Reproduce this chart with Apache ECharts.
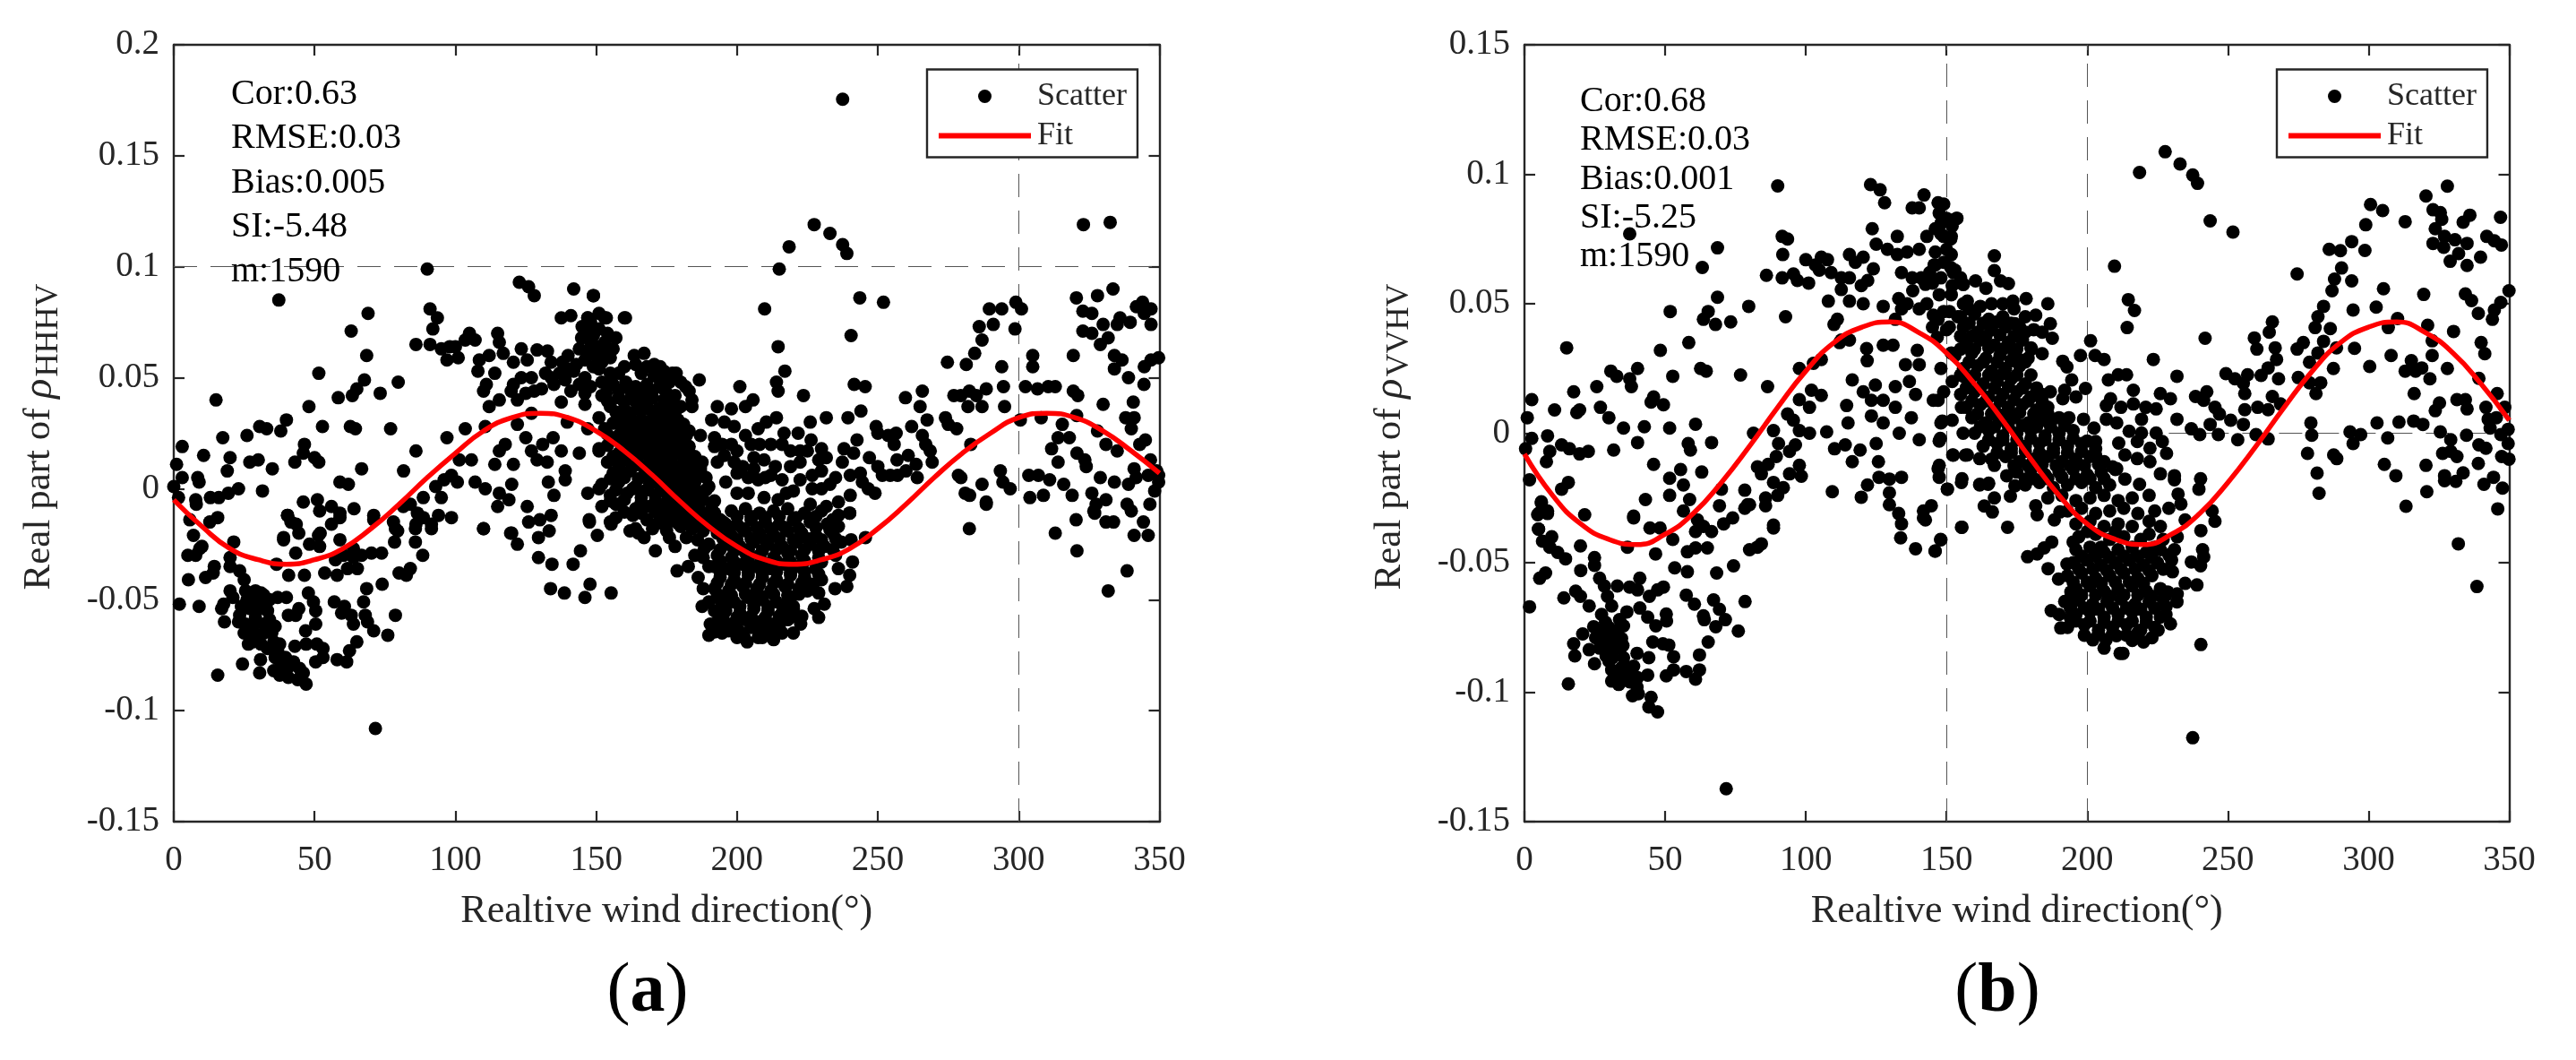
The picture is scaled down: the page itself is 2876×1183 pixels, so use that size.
<!DOCTYPE html>
<html><head><meta charset="utf-8">
<script src="https://cdn.jsdelivr.net/npm/echarts@6/dist/echarts.min.js"></script>
<style>html,body{margin:0;padding:0;background:#fff}#c{width:2876px;height:1183px}</style>
</head><body><div id="c"></div>
<script>
const fitX=[0,10,20,30,40,50,60,70,80,90,100,110,120,130,140,150,160,170,180,190,200,210,220,230,240,250,260,270,280,290,300,310,320,330,340,350];
const fitA=[-.005,-.017,-.027,-.032,-.034,-.032,-.027,-.018,-.007,.005,.016,.026,.032,.034,.032,.026,.017,.006,-.006,-.017,-.026,-.032,-.034,-.032,-.027,-.018,-.007,.005,.016,.025,.032,.034,.032,.026,.017,.007];
const fitB=[-.008,-.024,-.035,-.041,-.043,-.039,-.031,-.019,-.005,.010,.024,.035,.041,.043,.039,.031,.019,.005,-.010,-.024,-.035,-.041,-.043,-.039,-.031,-.019,-.005,.010,.024,.035,.041,.043,.039,.031,.019,.005];
const statsA=["Cor:0.63","RMSE:0.03","Bias:0.005","SI:-5.48","m:1590"];
const statsB=["Cor:0.68","RMSE:0.03","Bias:0.001","SI:-5.25","m:1590"];
const scatterA=[[37.3,.085],[90,.099],[122.7,.093],[126,.091],[128,.087],[142,.09],[149,.087],[69,.079],[63,.071],[68.5,.06],[91,.081],[93.6,.077],[92,.072],[86,.065],[91,.065],[95,.063],[98,.064],[97,.058],[101,.059],[100,.064],[103.5,.067],[105,.07],[107,.067],[115,.07],[115.6,.066],[108.5,.058],[112,.06],[117,.061],[120.6,.057],[123.4,.063],[125.5,.058],[129,.0625],[132.7,.062],[134,.057],[138,.057],[140,.06],[137.6,.077],[141,.078],[147,.077],[153,.077],[160,.077],
[1,.011],[3,.019],[10.6,.015],[0,.001],[3,.005],[1.7,-.004],[8.5,.005],[9,.003],[7.8,-.005],[13,-.004],[16,-.004],[19.4,-.002],[23,0],[15,.04],[17.4,.023],[20,.014],[19,.008],[26,.024],[30.5,.028],[33,.027],[38,.026],[40,.031],[27,.012],[30,.013],[35,.009],[31.5,-.001],[43,.012],[46.4,.02],[46,.016],[50,.014],[51.5,.012],[48,.037],[51.5,.052],[52.8,.028],[58.4,.041],[63.4,.042],[65,.045],[67.7,.049],[73.3,.043],[79.7,.048],[62.7,.028],[64.5,.027],[77,.027],[66.7,.009],[86,.017],[81.6,.008],[59,.003],[62,.002],[46,-.006],[51,-.005],[51.8,-.01],[56,-.008],[59,-.011],[64,-.009],[71,-.012],[40.4,-.012],[43.5,-.016],[52,-.02],[39,-.022],[81.5,-.008],[86.5,-.011],[84,-.007],[88.6,-.004],[93,.001],[96,.004],[98.6,.006],[101.4,.013],[100.7,.003],[95,-.004],[88.6,-.013],[94,-.012],[98.6,-.013],[91.5,-.016],[86,-.016],[78,-.015],[79.5,-.019],
[97,.023],[103.5,.027],[110.6,.028],[105.7,.013],[114,.011],[115.6,.017],[117.7,.02],[122,.029],[127,.034],[125,.023],[120.6,.011],[127,.017],[129,.013],[132.6,.012],[131,.02],[134.7,.023],[137.6,.017],[139.7,.03],[144,.016],[147,.027],[139,.008],[133,.003],[135,-.003],[139,.004],[120,.002],[107,.003],[110.6,0],[115.6,-.002],[115,-.008],[119,-.005],[125.5,-.008],[126,-.015],[130,-.014],[134,-.012],[110,-.018],[120,-.02],[147.5,-.014],[155,-.015],[147,-.002],[151,0],[151,.018],[157,.013],[157,-.007],
[108,.053],[114,.052],[111,.047],[110,.044],[112,.037],[115.6,.04],[120.6,.047],[123.4,.05],[127,.05],[119.8,.044],[130.6,.045],[134,.05],[139,.049],[142,.053],[137.6,.039],[146,.038],[146,.043],[151,.032],[153.5,.043],[146,.05],[151,.054],[144,.063],[148,.066],[152.6,.061],[146.8,.072],[151,.072],[144.8,.068],[149.7,.06],[155,.052],[158,.052],[158,.044],
[237.5,.1755],[227.4,.119],[233,.115],[237.5,.11],[239,.106],[218.5,.109],[215,.099],[209.8,.081],[243.6,.086],[252,.084],[240.5,.069],[214.6,.064],[217,.053],[214,.048],[214.6,.044],[223.6,.042],[241.6,.047],[245.5,.046],[201,.046],[205.7,.04],[203,.037],[193,.037],[198,.036],[186.6,.049],[178.4,.052],[181.7,.046],[184,.04],[184,.037],[163.5,.06],[167,.061],[170.6,.056],[172.7,.055],[174,.05],[160.4,.077],[153.6,.077],[149,.087],[147,.077],
[265.8,.044],[259.8,.041],[265,.037],[267.5,.031],[262,.028],[274.7,.057],[281.4,.056],[284.4,.061],[287,.067],[286,.073],[291,.074],[289.6,.081],[294,.081],[299,.084],[301,.081],[298.7,.072],[294,.055],[305,.06],[305,.055],[319.4,.06],[320.5,.086],[328,.087],[333.5,.09],[322.8,.08],[326,.079],[322.8,.071],[326,.07],[330,.074],[331.8,.068],[329,.065],[336,.077],[335,.074],[339.6,.075],[341.8,.082],[344,.084],[347,.081],[344.6,.079],[347,.074],[323,.119],[332.5,.12],
[334,.06],[336.7,.058],[334,.054],[344.6,.055],[347,.058],[349.7,.059],[339,.05],[344.5,.047],[340.7,.039],[330,.038],[319.4,.044],[321,.042],[320.6,.033],[315.5,.029],[318,.023],[314,.023],[328,.026],[331,.02],[335,.017],[338,.032],[341,.032],[340,.027],[345,.022],[343,.02],
[302.4,.046],[306.7,.045],[310.5,.046],[313,.046],[294.6,.046],[288.5,.045],[282.5,.044],[277,.042],[279.5,.042],[282,.037],[285,.042],[287,.037],[295,.037],[274,.032],[275,.029],[278,.027],[300.6,.031],[308,.032],
[283,.02],[311.7,.018],[320.7,.016],[323.5,.013],[324,.01],[314,.012],[278.6,.006],[279.5,.005],[287,.002],[293.5,.008],[294.4,.003],[297,0],[281,-.002],[282.6,-.003],[288.5,-.006],[303.6,.006],[307,.006],[311,.004],[316,.002],[319,-.003],[304,-.004],[308.8,-.003],[329,.005],[334,.003],[339,.002],[341.7,.005],[326,-.002],[331,-.005],[327.5,-.007],[326.7,-.01],[338.5,-.007],[340,-.01],[346.6,-.007],[349,.008],[349.7,.003],[348.3,-.001],[346,.006],[346.8,.013],[341,.009],[349.7,.006],
[282.5,-.018],[288.5,-.007],[313,-.02],[320.4,-.014],[320.7,-.028],[331.8,-.046],[338.5,-.037],[341,-.021],[346,-.021],[344.3,-.015],[331,-.015],[333.7,-.015],[327,-.011],
[182.7,-.035],[178.7,-.037],[186.2,-.04],[187.6,-.053],[190,-.051],[194.7,-.054],[190.5,-.061],[190,-.066],[194.7,-.065],[202.6,-.067],[203.6,-.069],[207.5,-.067],[213,-.068],[220,-.065],[222.6,-.061],[229,-.058],[231,-.052],[227.4,-.054],[229,-.047],[225,-.046],[234.8,-.045],[239,-.044],[240,-.039],[236,-.036],[241,-.033],[245.6,-.022],[240.5,-.023],[240,-.011],
[71.6,-.108],[15.6,-.084],[24.4,-.079],[30.5,-.083],[30.8,-.077],[47,-.088],[44,-.086],[40.7,-.085],[37.6,-.084],[35.5,-.082],[44.7,-.081],[42.5,-.078],[39.7,-.076],[36.9,-.073],[33.3,-.072],[35.5,-.069],[37.6,-.07],[36,-.076],[43,-.071],[47,-.07],[50.8,-.07],[53,-.072],[53,-.076],[50.4,-.078],[58,-.077],[61.4,-.078],[62.4,-.073],[65,-.069],[76,-.066],[46.8,-.064],[50.4,-.061],[50.4,-.055],[49.6,-.051],[47.8,-.047],[44.4,-.054],[43.3,-.057],[40.7,-.057],[40,-.049],[36.9,-.049],[57,-.051],[60.6,-.053],[59.6,-.056],[63,-.057],[63.8,-.061],[68,-.057],[68.8,-.06],[71,-.064],[67.4,-.051],[78.7,-.057],[68.5,-.045],[74,-.043],[80,-.038],[82.6,-.039],[84,-.036],
[29,-.046],[25.5,-.046],[32,-.048],[23.4,-.057],[27,-.054],[30.5,-.054],[33.3,-.055],[29,-.058],[25.5,-.061],[32,-.061],[36,-.062],[25,-.065],[27.7,-.066],[26.5,-.07],[32,-.065],[34.8,-.065],[29,-.05],[32.6,-.051],[24,-.053],
[20,-.046],[21,-.049],[17.7,-.052],[17,-.054],[18,-.06],[2,-.052],[9,-.053],[5.2,-.041],[11.3,-.04],[14.4,-.035],[14,-.038],[20,-.031],[20,-.035],[23.4,-.037],[25,-.041],[5,-.03],[7.8,-.03],[10,-.026],[7,-.021],[9.2,-.027],[5.7,-.014],[8,-.007],[12.8,-.015],[15.6,-.013],[21.3,-.024],
[36.5,-.034],[40.8,-.039],[46.4,-.039],[43.3,-.029],[39,-.023],[44.4,-.02],[48.2,-.025],[51.8,-.026],[51.4,-.021],[41.6,-.015],[40.4,-.012],[56,-.016],[59,-.013],[59,-.023],[53.6,-.038],[58,-.039],[57.4,-.032],[61.7,-.036],[65.2,-.036],[60.3,-.03],[63.8,-.027],[63.8,-.031],[66.7,-.03],[70.2,-.029],[73.8,-.029],[78.4,-.024],[78.7,-.018],[85.8,-.024],[88.4,-.03],[85.8,-.018],[91.5,-.018],[71,-.014],
[110,-.018],[119.6,-.02],[122,-.025],[129.5,-.031],[134.3,-.034],[141.8,-.034],[144.4,-.028],[133.8,-.045],[138.7,-.047],[147.8,-.043],[146,-.049],[155.3,-.047],[150.4,-.021],[155.3,-.016],[129.5,-.022],[133.3,-.019],[147.6,-.015],[162,-.019],[164,-.018],[167,-.022],[171,-.028],[188.4,-.027],
[166,.052],[170.5,.051],[174,.053],[156,.047],[160.5,.048],[164,.046],[168,.047],[172.5,.046],[176,.048],[152,.042],[158,.041],[162.5,.043],[166,.042],[170,.041],[175,.043],[178,.042],[155,.037],[160,.036],[164.5,.038],[168,.037],[172,.036],[176,.038],[180,.037],[158,.032],[162,.033],[166,.031],[170.5,.032],[174,.033],[179,.031],[153,.027],[159,.026],[163,.028],[167,.027],[171,.026],[175,.028],[179,.027],[183,.026],[156,.022],[161,.023],[165,.021],[169,.022],[173,.023],[177,.021],[181,.022],[151,.017],[158,.016],[163,.018],[167,.017],[171,.016],[175,.018],[179,.017],[183,.016],[154,.012],[160,.013],[165,.011],[169,.012],[173,.013],[177,.011],[181,.012],[185,.013],[156,.007],[162,.008],[167,.006],[171,.007],[175,.008],[179,.006],[183,.007],[187,.008],[152,.002],[158,.003],[164,.001],[169,.002],[173,.003],[177,.001],[181,.002],[185,.003],[190,.001],[155,-.003],[161,-.002],[166,-.004],[171,-.003],[175,-.002],[179,-.004],[183,-.003],[187,-.002],[152,-.008],[158,-.007],[164,-.009],[169,-.008],[174,-.007],[178,-.009],[182,-.008],[186,-.007],[191,-.009],[157,-.013],[163,-.012],[168,-.014],[173,-.013],[177,-.012],[181,-.014],[185,-.013],[189,-.012],[194,-.014],[170,-.018],[175,-.019],[180,-.017],[184,-.018],[188,-.019],[192,-.017],
[191,.031],[195.5,.03],[199,.028],[187,.024],[192,.023],[192,.019],[194.7,.02],[195.5,.015],[182.7,.013],[187.6,.012],[193,.012],[199,.012],[202,.01],[206,.014],[209.6,.013],[207.5,.027],[210.4,.03],[214,.032],[208,.02],[212,.02],[216.7,.025],[221.7,.025],[226,.03],[231.7,.032],[226.3,.022],[230,.018],[231.7,.014],[216,.02],[219,.017],[222.4,.017],[225,.017],[229,.013],[230,.008],[213.6,.01],[219,.01],[222.4,.012],[206,.009],[207.5,.004],[222.4,.004],[226.7,.006],[230,0],[196,.003],[200,-.002],[204,-.002],[209.6,-.004],[214.6,-.005],[217.5,-.002],[226.7,0],[226,-.007],[231.7,-.008],[240,-.011],[240.2,-.003],[237.4,.012],[239.4,.032],[244,.035],[238,.018],[241.4,.016],[242.6,.022],[247,.014],[249.4,.028],[250,.025],[253.7,.024],[256.5,.025],[255.8,.02],[256.8,.013],[260.8,.015],[263.6,.011],[264,.005],[265.8,.024],[267,.02],[269.3,.012],[268.6,.017],[240.2,.006],[243.8,.007],[244.5,.003],[246.6,0],[249,-.002],[250,.01],[251.6,.006],[254.4,.006],[257,.006],[260,.008],
[198,-.01],[203,-.009],[208,-.011],[213,-.01],[218,-.009],[224,-.011],[230,-.01],[236,-.012],[195,-.015],[200,-.016],[205,-.014],[210,-.015],[215,-.016],[220,-.014],[226,-.015],[232,-.016],[236,-.017],[193,-.02],[198,-.021],[203,-.019],[208,-.02],[213,-.021],[218,-.019],[223,-.02],[228,-.021],[234,-.02],[196,-.025],[201,-.026],[206,-.024],[211,-.025],[216,-.026],[221,-.024],[226,-.025],[231,-.026],[237,-.024],[193,-.03],[198,-.031],[203,-.029],[208,-.03],[213,-.031],[218,-.029],[223,-.03],[229,-.031],[235,-.03],[192,-.035],[197,-.036],[202,-.034],[207,-.035],[212,-.036],[217,-.034],[222,-.035],[228,-.036],[194,-.04],[199,-.041],[204,-.039],[209,-.04],[214,-.041],[219,-.039],[224,-.04],[230,-.041],[192,-.045],[197,-.046],[202,-.044],[207,-.045],[212,-.046],[217,-.044],[222,-.045],[194,-.05],[199,-.051],[204,-.049],[209,-.05],[214,-.051],[219,-.049],[196,-.055],[201,-.056],[206,-.054],[211,-.055],[216,-.056],[220,-.054],[193,-.06],[198,-.061],[203,-.059],[208,-.06],[213,-.061],[218,-.059],[197,-.064],[202,-.065],[207,-.063],[212,-.064],[216,-.065]];
const coreA=[[158,.0445],[162,.045],[166,.0445],[170,.044],[174,.045],[154,.0395],[160,.039],[164,.04],[168,.0395],[174,.04],[177,.039],[157,.0345],[162,.034],[166,.035],[170,.0345],[174,.035],[178,.034],[156,.0295],[160,.03],[164,.0295],[168,.03],[172,.029],[177,.0295],[181,.029],[154,.0245],[158,.024],[163,.025],[167,.0245],[171,.024],[175,.025],[179,.0245],[182,.024],[154,.0195],[159,.0195],[163,.02],[167,.019],[171,.0195],[175,.02],[179,.0195],[183,.019],[156,.0145],[161,.015],[165,.0145],[169,.015],[173,.014],[177,.0145],[181,.015],[185,.0145],[158,.0095],[163,.01],[167,.0095],[171,.01],[175,.009],[179,.0095],[183,.01],[187,.0095],[155,.0045],[160,.005],[165,.0045],[169,.005],[173,.004],[177,.0045],[181,.005],[185,.0045],[189,.005],[157,-.0005],[163,0],[168,-.0005],[173,0],[177,-.001],[181,-.0005],[185,0],[189,-.0005],[155,-.0055],[160,-.005],[166,-.006],[171,-.0055],[176,-.005],[180,-.0055],[184,-.006],[188,-.005],[192,-.0055],[160,-.0105],[166,-.011],[171,-.0105],[175,-.01],[179,-.011],[183,-.0105],[187,-.01],[192,-.011],[172,-.0155],[175,-.016],[179,-.0155],[183,-.015],[187,-.016],[191,-.0155],[196,-.016],
[200,-.0125],[205,-.0125],[210,-.013],[215,-.0125],[221,-.013],[228,-.0125],[197,-.0175],[202,-.018],[207,-.0175],[212,-.018],[217,-.0175],[222,-.018],[228,-.0175],[233,-.0185],[195,-.0225],[200,-.023],[205,-.0225],[210,-.023],[215,-.0225],[220,-.023],[225,-.0225],[230,-.023],[235,-.0225],[194,-.0275],[199,-.028],[204,-.0275],[209,-.028],[214,-.0275],[219,-.028],[224,-.0275],[229,-.028],[234,-.0275],[194,-.0325],[199,-.033],[204,-.0325],[209,-.033],[214,-.0325],[219,-.033],[224,-.0325],[230,-.033],[194,-.0375],[199,-.038],[204,-.0375],[209,-.038],[214,-.0375],[219,-.038],[224,-.0375],[229,-.0385],[193,-.0425],[198,-.043],[203,-.0425],[208,-.043],[213,-.0425],[218,-.043],[223,-.0425],[227,-.043],[193,-.0475],[198,-.048],[203,-.0475],[208,-.048],[213,-.0475],[218,-.048],[222,-.0475],[196,-.0525],[201,-.053],[206,-.0525],[211,-.053],[216,-.0525],[220,-.053],[195,-.0575],[200,-.058],[205,-.0575],[210,-.058],[215,-.0575],[219,-.058],[223,-.0575],[195,-.0625],[200,-.063],[205,-.0625],[210,-.063],[215,-.0625],[192,-.0645],[200,-.067],[209,-.067]];
const extraA=[[146,.058],[149,.055],[152,.057],[155,.059],[147,.062],[150,.064],[153,.066],[156,.063],[145,.073],[148,.075],[151,.079],[149,.069],[154,.07],[157,.068],[143,.056],[140,.054],[137,.052],[135,.047],[132,.052],[128,.044],[125,.043],[122,.04],[141,.044],[144,.047],[148,.046],[152,.048],[155,.048],[160,.055],[164,.056],[168,.055],[172,.05],[177,.052],[180,.048],[183,.044],[26,-.05],[28,-.053],[31,-.047],[34,-.05],[23,-.06],[28,-.062],[30,-.066],[34,-.059],[28,-.069],[31,-.07],[38,-.08],[41,-.08],[46,-.083],[39,-.08],[165,-.02],[176,-.022],[182,-.022],[186,-.023],[190,-.025],[188,-.031],[185,-.03],[178,-.026],[190,-.035],[188,-.045],[192,-.055],[205,.02],[200,.007],[204,.005],[212,.006],[216,.004],[220,-.001],[233,.002],[235,.005],[236,-.006],[234,-.014],[210,.005],[200,.017],[203,.024],[198,.02]];
const scatterB=[[90,.0955],[123,.096],[126.4,.094],[128,.089],[142,.092],[140.3,.087],[137.8,.087],[149,.0885],[153.6,.083],[147.4,.085],[37.4,.077],[68.6,.0716],[63.2,.064],[91.6,.076],[93.5,.075],[91.8,.069],[86,.061],[91.6,.06],[95.6,.0615],[97,.059],[101,.058],[100,.067],[103.4,.065],[105.5,.068],[107.7,.067],[104.8,.063],[109,.062],[112.6,.06],[115.5,.069],[120.4,.068],[117.6,.066],[115.5,.06],[124,.0635],[122,.059],[119.7,.057],[123.6,.079],[125,.073],[132.5,.076],[129,.071],[132.5,.069],[136,.07],[140.3,.071],[134,.062],[137.8,.06],[143,.076],[148,.077],[151.7,.076],[150,.071],[146,.065],[152.4,.062],[151.7,.069],
[108,.051],[112.6,.0555],[115.5,.051],[120.4,.05],[111.2,.044],[110,.042],[112.6,.036],[115.5,.036],[127.5,.049],[133,.052],[134,.048],[131.8,.044],[140.3,.048],[142.5,.0575],[147.4,.0535],[151.7,.0535],[145.3,.0456],[149,.047],[156,.0575],[156,.05],
[15,.033],[51.8,.047],[68.6,.0525],[65.3,.047],[63.6,.044],[67.9,.042],[73.3,.043],[79.7,.049],[92.8,.045],[58.4,.035],[48.3,.032],[52.7,.022],[62.6,.025],[64.6,.024],[76.8,.0225],[86.4,.018],[40.2,.025],[30.7,.024],[32.8,.022],[37.4,.021],[38,.018],[25.7,.018],[17.5,.016],[27,.01],[19.6,.009],[18.6,.008],[10.7,.009],[2.6,.013],[1,.006],[2.6,-.002],[8.2,-.001],[30,.006],[35.2,.002],[42.6,.0025],[51.6,.002],[60.8,.0035],[45.9,.014],[45,.012],[49.4,.011],[40.2,-.0036],[31.7,-.0065],[58.2,-.004],[59,-.0065],[66.5,-.0036],[13.2,-.0045],[16,-.006],[19.6,-.008],[22.7,-.007],[9,-.007],[7.8,-.011],[.4,-.006],[1.8,-.018],[15.6,-.019],[13.2,-.0216],[45.9,-.012],[55.5,-.014],[63,-.015],[51.6,-.0174],[56.5,-.02],[51.6,-.024],[43,-.0256],[58.7,-.0256],[56.5,-.03],[38.8,-.032],[6,-.027],[8.2,-.03],[5,-.031],[21.4,-.0315],[5,-.037],[70,-.0216],[78.3,-.022],[69.3,-.028],[80,-.0276],[85.7,-.025],[90,-.024],[92,-.021],[85.7,-.028],[88.5,-.019],[82.8,-.013],[84.2,-.0157],[86.6,-.012],[89.5,-.009],[94.2,-.0157],[97.7,-.0124],[98.4,-.0166],[88.5,-.0355],[81.4,0],[88.5,.001],[90.3,-.004],[94.2,-.007],[96.3,-.0045],[93.5,.0074],[95.6,.005],[97.7,.001],[101.3,0],[97.7,.013],[101.3,.01],[102,.0166],[105.5,.0146],[97.7,.025],[102.7,.027],[105.5,.0285],[112,.035],
[107.4,.0005],[114.5,.0107],[115,.004],[116.5,.0206],[121.6,.0327],[121.8,.028],[127.5,.034],[131,.034],[124.7,.0186],[120.4,.016],[123.3,.0127],[127.5,.0127],[123.3,.0067],[127.5,.004],[131.8,.01],[133.2,0],[136.8,.02],[135.4,.0265],[140.3,.0265],[131.8,.018],[139,.015],[137.5,.006],[140.3,-.0025],[148,.025],[145.3,.0127],[149,.016],[148,.004],[139.6,.032],[146.7,.037],[151.7,.031],[156,.022],[155.3,.01],[147.4,-.003],[152.4,-.0085],[156.7,-.0085],
[110.2,-.006],[114,-.0045],[116.5,-.011],[119.3,-.0065],[125,-.004],[125.8,-.011],[126,-.017],[121.9,-.02],[119.7,-.0247],[109.4,-.0226],[129.7,-.0177],[134,-.017],[129.7,-.023],[129.7,-.0276],[133,-.031],[134,-.035],[141.8,-.03],[144.6,-.028],[142.5,-.0335],[147.4,-.0124],[147.4,-.017],[150.3,-.0216],[155.3,-.019],
[1.8,-.067],[5.4,-.056],[7.5,-.054],[6,-.0265],[4.7,-.0315],[8.2,-.031],[5,-.037],[6.4,-.0417],[9.7,-.04],[9,-.044],[11.8,-.046],[14.6,-.0485],[19.9,-.0435],[24.9,-.048],[24.9,-.051],[20,-.053],[14,-.0636],[18.2,-.061],[19.9,-.063],[23,-.0667],[26.7,-.056],[28.4,-.059],[33,-.059],[37.4,-.0594],[41,-.056],[40.2,-.0605],[44.4,-.063],[47.3,-.0605],[49.4,-.0594],[29.5,-.063],[31,-.0667],[36.4,-.069],[41,-.0675],[43.8,-.071],[46.7,-.0744],[50.4,-.0698],[50.5,-.0725],[27.4,-.07],[28.8,-.073],[33.8,-.072],[35.2,-.0744],[24.6,-.0747],[20.7,-.0775],[25.3,-.079],[28.1,-.0775],[31,-.079],[34.5,-.0793],[17.5,-.0813],[17.9,-.086],[23,-.0836],[26.7,-.083],[24.9,-.089],[31.3,-.0867],[35.2,-.0867],[40,-.085],[44.2,-.0867],[45.6,-.0806],[49.2,-.0813],[51.3,-.0818],[53,-.0863],[31,-.0914],[34.5,-.0906],[38.8,-.09],[43.8,-.0934],[31,-.0957],[33.5,-.097],[37.4,-.096],[40.2,-.0944],[38.4,-.1014],[40.5,-.1006],[45,-.102],[44.2,-.1057],[47.3,-.1076],[15.6,-.0968],[50.4,-.0937],[53,-.0914],[57.5,-.092],[60.8,-.095],[62.2,-.0914],[62.2,-.0856],[65.3,-.0806],[57.5,-.0625],[60.4,-.066],[63.6,-.0705],[63.9,-.072],[67.2,-.0644],[69.3,-.068],[71.4,-.072],[68,-.0747],[76,-.0764],[78.4,-.065],[71.7,-.1373],[68.3,-.054],[74.3,-.0512],[57.9,-.0535],[53.4,-.052],[46.6,-.0466],[36.6,-.044],[57.9,-.0458],[60.8,-.0443],[65,-.0443],[80,-.045],[84.2,-.0427],[82.8,-.044],[88.5,-.0366],[52.7,-.041],[44.6,-.0366],[48.2,-.0366],[38.8,-.0327],[60.8,-.038],[63.6,-.036],[66.5,-.038],[70.8,-.035],[74,-.0327],[61.5,-.0335],[79.3,-.0276],[78.3,-.029],[133.7,-.0404],[139,-.0446],[146,-.0455],[147.9,-.041],[155.3,-.0363],[141.8,-.0327],
[227.7,.1087],[233,.104],[237.5,.0997],[239.2,.0965],[218.6,.1007],[243.7,.082],[251.8,.0777],[209.7,.0645],[214.6,.0516],[216.8,.0474],[214.2,.0408],[241.9,.0367],[223.5,.0285],[231.9,.022],
[320.4,.0916],[328,.0954],[300.7,.0883],[305,.086],[313,.0817],[299,.0805],[294,.074],[286,.071],[290,.0705],[298.7,.0706],[322.9,.0863],[325.5,.0852],[326,.0826],[323.7,.079],[322.9,.0733],[326.7,.0718],[327,.076],[330.7,.0747],[335,.0733],[332,.0694],[329,.0664],[335,.0648],[339.8,.068],[333.6,.0815],[336,.0842],[346.9,.0834],[342,.076],[344.7,.0743],[347.2,.0727],
[274.6,.0615],[290.4,.0638],[287.9,.0595],[294,.0588],[287,.055],[284,.049],[282,.045],[281,.0408],[286.4,.0404],[294.5,.0476],[302.7,.0487],[305.3,.0558],[319.6,.0536],[310.3,.0443],[307,.0408],[321,.0417],[330.2,.0393],[334.4,.0538],[336.6,.0512],[339,.0463],[344,.044],[344.7,.0476],[347,.0505],[349.9,.055],
[265.8,.043],[264.7,.039],[259.4,.0368],[260.3,.0325],[266.8,.033],[267.3,.0285],[264.3,.0252],[276.8,.035],[274.6,.0325],[284,.0355],[282,.031],[279,.0274],[287.5,.025],[295,.0328],[288.6,.033],[300.4,.0258],[308,.03],[315.2,.028],[318.9,.0252],[313,.024],[316.7,.024],[322.6,.03],[322.6,.0357],[328,.025],[321.8,.021],[316.2,.0153],[340,.035],[341.3,.0307],[339.2,.0212],[345.7,.0153],[331.4,.013],[334.4,.013],[335,.0094],[325.2,.0117],[323.7,.0087],
[249.3,.023],[257,.0226],[255.5,.0193],[256,.0153],[252.5,.021],[261.8,.0223],[268,.021],[265.8,.0142],[268.7,.0113],[275,.0215],[279,.0195],[283,.0195],[281.3,.0153],[242.5,.016],[238.5,.0142],[241.4,.0127],[245.4,.01],[247,.0074],[256,.0091],[260.6,.01],[264.3,.0091],[251,.005],[255.5,.0034],[237,.0017],[240,-.0005],[243.7,.0034],[246.6,-.0005],[253.5,-.0025],[260,-.0005],[264.3,-.0022],
[279.5,.004],[279.8,-.0008],[293.4,.0005],[297.2,-.0005],[294.5,-.004],[303,.004],[306.8,-.0018],[310.8,.0043],[316,.0047],[319.3,.0034],[325.5,.0005],[334.8,-.0008],[329.2,-.0025],[326.3,-.0078],[329.2,-.007],[331.4,-.009],[339.2,-.0045],[341.7,-.0058],[339,-.0117],[342.5,.0054],[341.7,.01],[345.4,.006],[348.4,.01],[349.6,.0015],[347,-.0005],[349.6,-.004],[347.3,-.009],[349.9,-.01],[343.2,.002],
[278.3,-.0078],[287.6,-.0084],[288.7,-.0098],[281.7,-.0154],[282.4,-.0232],[305.6,-.012],[309.7,-.0164],[320.4,-.0124],[320.7,-.0226],[313.3,-.0282],[327,-.0164],[327,-.0183],[331,-.0186],[333.6,-.0153],[341,-.0197],[344.4,-.017],[347.6,-.0212],[345.9,-.0292],
[331.9,-.0427],[338.5,-.0592],[237.5,-.1176],[240.4,-.0816],[212.7,-.085],[211.7,-.085],[190.6,-.0752],[187.2,-.0685],[194,-.0713],[202,-.0798],[206.7,-.0798],[210.4,-.0782],[220,-.0806],[223,-.079],[225.2,-.076],[229.6,-.0736],[228,-.07],[231.9,-.0651],[228.6,-.0613],[234.8,-.058],[239,-.0586],[237,-.0497],[240.3,-.0512],[241,-.045],[241.4,-.0478],[240.4,-.0376],[245.4,-.034],[244.4,-.03],[239.7,-.0216],[240.3,-.0176],[233.3,-.0273],[232.3,-.0235],[231,-.018],[234.8,-.0335],[231,-.045],[230.3,-.0535],
[178.8,-.0477],[182.2,-.0466],[184.7,-.0443],[187.4,-.042],[186.1,-.0523],[189.8,-.0563],[192.8,-.0505],[194.2,-.0613],[195,-.0651],[155.5,-.0363],[171.7,-.0363],[148,-.0412],[145.9,-.0455],[167,-.025],[163.4,-.0281],[166.3,-.0304],[155.5,-.0176],[150.3,-.0216],[161.8,-.02],[165,-.0193],[181.7,-.028],[182.2,-.0315],[190.3,-.0304],[188.3,-.0335],
[160.3,.0588],[164,.056],[167,.0628],[167,.0685],[169.2,.0588],[172,.0578],[173.6,.051],[178.3,.052],[186,.05],[181.7,.0456],[186.9,.0423],[184,.039],[187.6,.0367],[178,.039],[174.3,.0423],[155.9,.0575],[157.4,.051],[147,.089],[153.7,.083],[151.5,.075],[151.5,.064],[145.6,.065],[153,.063],
[180.2,.0325],[184,.0307],[175.8,.0285],[191.3,.0278],[192.8,.0256],[201.2,.0357],[197.6,.03],[202.8,.03],[206,.0285],[194.5,.0206],[199.4,.0173],[186.9,.016],[192,.0166],[191.3,.0133],[196,.014],[193.5,.006],[198.7,.0054],[182.4,.0054],[187.6,.0054],[207.5,.0206],[211,.0226],[214,.0226],[216.4,.0166],[208.3,.0133],[206.8,.0107],[212,.01],[216.4,.0113],[220.8,.01],[226,.0153],[229.6,.0133],[224.5,.0094],[231.9,.0054],[219.3,.0054],[206.8,.0054],[210.5,.004],[202.4,.002],[214.9,.0008],[219.3,.0001],[224.5,.0001],[211.2,-.0038],[217.8,-.0032],[203,-.0032],[226.7,-.0032],[222.3,-.0058],[228.2,-.0078],[213.4,-.0084],[217.8,-.0098],[222.3,-.011],[226,-.0157],[210.5,-.0137],[213.4,-.0177],[218.6,-.0197],[231,-.0164],
[147,-.0137],[147.8,-.002],[152.2,-.0084],[157.4,-.0084],[155.9,0],[147,.0127],[148.5,.0047],[161.8,-.0098],[167,-.0124],[171.4,-.0164],[174.3,-.0203],[178,-.0177],[161.8,-.0197],[164.8,-.0197],[172.7,-.0243],
[155,.045],[160,.046],[165,.044],[170,.045],[150,.04],[156,.041],[161,.039],[166,.04],[171,.041],[157,.035],[162,.036],[167,.034],[172,.035],[177,.036],[153,.03],[159,.031],[164,.029],[169,.03],[174,.031],[179,.029],[156,.025],[161,.026],[166,.024],[171,.025],[176,.026],[152,.02],[158,.021],[163,.019],[168,.02],[173,.021],[178,.019],[155,.015],[160,.016],[165,.014],[170,.015],[175,.016],[180,.014],[184,.015],[157,.01],[162,.011],[167,.009],[172,.01],[177,.011],[182,.009],[186,.01],[152,.005],[159,.006],[164,.004],[169,.005],[174,.006],[179,.004],[184,.005],[190,.006],[160,0],[165,.001],[170,-.001],[175,0],[180,.001],[185,-.001],[190,0],[195,.001],[163,-.005],[168,-.004],[173,-.006],[178,-.005],[183,-.004],[188,-.006],[193,-.005],[198,-.004],[203,-.006],[166,-.01],[171,-.009],[176,-.011],[181,-.01],[186,-.009],[191,-.011],[196,-.01],[201,-.009],[206,-.011],[175,-.015],[180,-.014],[185,-.016],[190,-.015],[195,-.014],[200,-.016],[205,-.015],[210,-.014],[178,-.02],[183,-.019],[188,-.021],[193,-.02],[198,-.019],[203,-.021],[208,-.02],[186,-.025],[191,-.024],[196,-.026],[201,-.025],[206,-.024],[211,-.026],[216,-.025],[222,-.024],[193,-.03],[198,-.029],[203,-.031],[208,-.03],[213,-.029],[218,-.031],[224,-.03],[229,-.029],[196,-.035],[201,-.034],[206,-.036],[211,-.035],[222,-.034],[226,-.036],[197,-.04],[203,-.039],[208,-.041],[213,-.04],[222,-.039],[227,-.041],[232,-.04],[196,-.045],[201,-.044],[206,-.046],[211,-.045],[216,-.044],[221,-.046],[226,-.045],[195,-.05],[200,-.049],[205,-.051],[210,-.05],[215,-.049],[220,-.051],[225,-.05],[230,-.049],[193,-.055],[198,-.054],[203,-.056],[208,-.055],[213,-.054],[218,-.056],[223,-.055],[196,-.06],[201,-.059],[206,-.061],[211,-.06],[216,-.059],[221,-.061],[226,-.06],[192,-.065],[197,-.064],[202,-.066],[207,-.065],[212,-.064],[217,-.066],[222,-.065],[227,-.064],[196,-.07],[201,-.069],[206,-.071],[211,-.07],[216,-.069],[221,-.071],[193,-.075],[199,-.074],[204,-.076],[209,-.075],[214,-.074],[219,-.076],[224,-.075]];
const coreB=[[158,.0425],[163,.0425],[168,.043],[173,.0425],[155,.0375],[159,.0375],[164,.0375],[169,.038],[174,.0375],[155,.0325],[160,.0325],[165,.033],[170,.0325],[175,.0325],[180,.033],[158,.0275],[163,.0275],[168,.0275],[173,.028],[178,.0275],[155,.0225],[160,.0225],[165,.0225],[170,.023],[175,.0225],[180,.0225],[157,.0175],[162,.0175],[167,.0175],[172,.018],[177,.0175],[182,.0175],[159,.0125],[164,.0125],[169,.0125],[174,.013],[179,.0125],[184,.0125],[161,.0075],[166,.0075],[171,.0075],[176,.008],[181,.0075],[186,.0075],[162,.0025],[167,.0025],[172,.0025],[177,.003],[182,.0025],[187,.0025],[192,.003],[165,-.0025],[170,-.0025],[175,-.0025],[180,-.002],[185,-.0025],[190,-.0025],[195,-.002],[200,-.003],[168,-.0075],[173,-.0075],[178,-.007],[183,-.0075],[188,-.0075],[193,-.0075],[198,-.007],[203,-.0085],[174,-.0125],[179,-.0125],[184,-.012],[189,-.0125],[194,-.0125],[199,-.0125],[204,-.012],[209,-.013],[181,-.0175],[186,-.0175],[191,-.017],[196,-.0175],[201,-.0175],[206,-.0175],
[198,-.0475],[203,-.0475],[208,-.048],[213,-.0475],[218,-.0475],[223,-.048],[197,-.0525],[202,-.0525],[207,-.053],[212,-.0525],[217,-.0525],[222,-.053],[227,-.0525],[195,-.0575],[200,-.0575],[205,-.058],[210,-.0575],[215,-.0575],[220,-.058],[198,-.0625],[203,-.0625],[208,-.063],[213,-.0625],[218,-.0625],[223,-.063],[228,-.0625],[194,-.0675],[199,-.0675],[204,-.068],[209,-.0675],[214,-.0675],[219,-.068],[224,-.0675],[196,-.0725],[201,-.0725],[206,-.073],[211,-.0725],[216,-.0725],[221,-.073],[204,-.0775],[209,-.0775],[214,-.078],[218,-.077]];
const extraB=[[145,.058],[148,.06],[146,.07],[149,.066],[152,.057],[155,.06],[148,.081],[150,.083],[146,.079],[152,.08],[149,.076],[144,.062],[141,.06],[138,.055],[136,.05],[143,.05],[147,.044],[151,.047],[154,.045],[151,.041],[158,.048],[162,.049],[166,.05],[170,.05],[174,.048],[178,.045],[181,.04],[176,.041],[145,.041],[27,-.076],[30,-.075],[33,-.076],[27,-.08],[30,-.082],[33,-.083],[29,-.086],[36,-.09],[34,-.094],[37,-.093],[40,-.098],[30,-.088],[35,-.082],[199,-.078],[206,-.083],[216,-.08],[190,-.07],[228,-.067],[226,-.071],[232,-.062],[195,-.042],[200,-.038],[205,-.044],[210,-.038],[216,-.036],[219,-.041],[224,-.044],[229,-.047]];
const guidesA=[{xAxis:300},{yAxis:.1}];
const guidesB=[{xAxis:150},{xAxis:200},[{coord:[229,0]},{coord:[350,0]}]];

const FONT="'Liberation Serif','Times New Roman',serif", DARK="#262626";
const panels=[
 {left:194,right:1294.5,ymax:.2,data:scatterA.concat(coreA,extraA),fit:fitA,guides:guidesA,sub:"HHHV",stats:statsA,sx:258,sy:[113,162.5,212,261,311],legendX:1035,tag:"a",tagX:718},
 {left:1702,right:2801.5,ymax:.15,data:scatterB.concat(coreB,extraB),fit:fitB,guides:guidesB,sub:"VVHV",stats:statsB,sx:1764,sy:[121.5,164.5,208,251.5,294.5],legendX:2542,tag:"b",tagX:2225}
];
const grid=[],xAxis=[],yAxis=[],series=[],legend=[],title=[],elements=[];
const axLine={onZero:false,lineStyle:{color:DARK,width:2.4}};
const tick={inside:true,length:12,lineStyle:{color:DARK,width:2.2}};
panels.forEach((p,i)=>{
  grid.push({left:p.left,width:p.right-p.left,top:50,height:867,containLabel:false});
  const xb={type:'value',gridIndex:i,min:0,max:350,interval:50,splitLine:{show:false},axisLine:axLine,axisTick:tick};
  const yb={type:'value',gridIndex:i,min:-.15,max:p.ymax,interval:.05,splitLine:{show:false},axisLine:axLine,axisTick:tick};
  xAxis.push(Object.assign({},xb,{position:'bottom',axisLabel:{color:DARK,fontFamily:FONT,fontSize:39,margin:24},
    name:'Realtive wind direction(°)',nameLocation:'middle',nameGap:78,nameTextStyle:{color:DARK,fontFamily:FONT,fontSize:44}}));
  xAxis.push(Object.assign({},xb,{position:'top',axisLabel:{show:false}}));
  yAxis.push(Object.assign({},yb,{position:'left',axisLabel:{color:DARK,fontFamily:FONT,fontSize:39,margin:16,showMinLabel:true,showMaxLabel:true},
    name:'{m|Real part of }{p|ρ}{s|'+p.sub+'}',nameLocation:'middle',nameRotate:90,nameGap:122,
    nameTextStyle:{color:DARK,fontFamily:FONT,rich:{
      m:{fontFamily:FONT,fontSize:43,color:DARK,lineHeight:50,verticalAlign:'top'},
      p:{fontFamily:FONT,fontStyle:'italic',fontSize:46,color:DARK,lineHeight:50,verticalAlign:'top'},
      s:{fontFamily:FONT,fontSize:36,color:DARK,lineHeight:50,padding:[16,8,0,2]}}}}));
  yAxis.push(Object.assign({},yb,{position:'right',axisLabel:{show:false}}));
  series.push({name:'Scatter',type:'scatter',xAxisIndex:2*i,yAxisIndex:2*i,data:p.data,symbol:'circle',symbolSize:15,clip:false,z:2,
    itemStyle:{color:'#000',opacity:1},animation:false,silent:true,
    markLine:{silent:true,z:1,symbol:'none',animation:false,label:{show:false},lineStyle:{color:'#555',width:1,type:[26,15]},data:p.guides}});
  series.push({name:'Fit',type:'line',xAxisIndex:2*i,yAxisIndex:2*i,data:fitX.map((x,k)=>[x,p.fit[k]]),smooth:true,showSymbol:false,symbol:'none',z:3,
    lineStyle:{color:'#ff0000',width:5.5},itemStyle:{color:'#ff0000'},animation:false,silent:true});
  legend.push({orient:'vertical',left:p.legendX,top:77.5,padding:[11,12,5,10],itemGap:6,itemWidth:103,itemHeight:15,selectedMode:false,
    backgroundColor:'#fff',borderColor:DARK,borderWidth:2.4,borderRadius:0,
    textStyle:{color:DARK,fontFamily:FONT,fontSize:36,lineHeight:38,padding:[0,0,0,2]},
    data:[{name:'Scatter'},{name:'Fit',itemStyle:{opacity:0},lineStyle:{width:6,color:'#ff0000'}}]});
  title.push({text:'({b|'+p.tag+'})',left:p.tagX,top:1058,textAlign:'center',
    textStyle:{color:'#000',fontFamily:FONT,fontSize:78,fontWeight:'normal',lineHeight:90,rich:{b:{fontFamily:FONT,fontSize:78,fontWeight:'bold',color:'#000',lineHeight:90}}}});
  p.stats.forEach((t,k)=>elements.push({type:'text',z:10,silent:true,x:p.sx,y:p.sy[k]-28,style:{text:t,fill:'#000',font:"40px "+FONT}}));
});
const chart=echarts.init(document.getElementById('c'),null,{renderer:'canvas',width:2876,height:1183});
chart.setOption({animation:false,backgroundColor:'#fff',grid,xAxis,yAxis,series,legend,title,graphic:{elements},tooltip:{show:false}});
</script></body></html>
